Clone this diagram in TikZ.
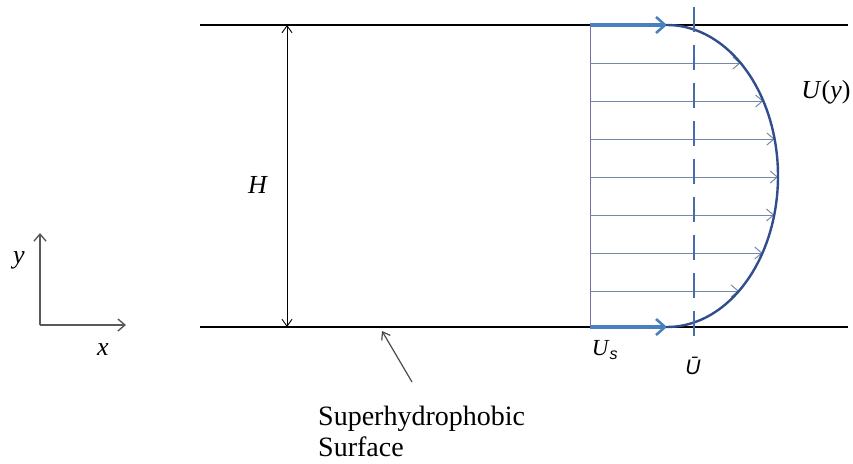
\documentclass[tikz,border=0pt]{standalone}
\usepackage{fontspec}
\setmainfont{Liberation Serif}
\newfontfamily\sansfont{Liberation Sans}
\usepackage{tikz}
\usetikzlibrary{arrows.meta,calc}

\definecolor{slipblue}{RGB}{72,128,192}
\definecolor{curveblue}{RGB}{48,78,140}
\definecolor{dashblue}{RGB}{70,108,170}
\definecolor{veloc}{RGB}{118,136,168}

\begin{document}
\begin{tikzpicture}[
  x=1pt,y=-1pt,
  font=\fontsize{26}{31}\selectfont,
  wall/.style={line width=2pt},
  arr/.style={-{Straight Barb[length=7pt,width=10pt]},line width=0.9pt},
  axis/.style={-{Straight Barb[length=7pt,width=12pt]},line width=1.4pt,black!65},
  slip/.style={-{Straight Barb[length=9pt,width=16pt,line width=2.6pt]},line width=3.8pt,slipblue},
  vel/.style={-{Straight Barb[length=7pt,width=12pt]},line width=1pt,veloc},
  note/.style={font=\fontsize{23}{26}\selectfont},
]
  \useasboundingbox (0,0) rectangle (853,463);

  % channel walls
  \coordinate (TL) at (200,25);  \coordinate (TR) at (848,25);
  \coordinate (BL) at (200,327); \coordinate (BR) at (848,327);
  \draw[wall] (TL) -- (TR);
  \draw[wall] (BL) -- (BR);

  % height
  \coordinate (Htop) at (287,25); \coordinate (Hbot) at (287,327);
  \draw[arr,{Straight Barb[length=7pt,width=10pt]}-{Straight Barb[length=7pt,width=10pt]}] (Htop) -- (Hbot);
  \node (H) at (258,185) {\textit{H}};

  % axes
  \coordinate (O) at (40,325);
  \coordinate (Ytip) at (40,233);
  \coordinate (Xtip) at (126,325);
  \draw[axis] (O) -- (Ytip);
  \draw[axis] (O) -- (Xtip);
  \node (ylab) at (19,260) {\textit{y}};
  \node (xlab) at (103,350) {\textit{x}};

  % velocity profile
  \coordinate (Ptop) at (590,25); \coordinate (Pbot) at (590,327);
  \draw[veloc!80!violet,line width=0.9pt] (Ptop) -- (Pbot);
  \foreach \yy in {63,101,139,177,215,253,291}{
    \pgfmathsetmacro\xe{667+111*sqrt(1-((\yy-176)/151)^2)}
    \coordinate (vs) at (590,\yy);
    \coordinate (ve) at (\xe,\yy);
    \draw[vel] (vs) -- (ve);
  }
  \coordinate (Stop) at (667,25); \coordinate (Sbot) at (667,327);
  \draw[slip] (Ptop) -- (Stop);
  \draw[slip] (Pbot) -- (Sbot);
  \draw[curveblue,line width=2.4pt] plot[domain=-90:90,samples=80]
    ({667+111*cos(\x)},{176+151*sin(\x)});

  % mean velocity
  \coordinate (Mtop) at (694,7); \coordinate (Mbot) at (694,347);
  \draw[dashblue,line width=2.8pt,dash pattern=on 25pt off 13pt] (Mtop) -- (Mbot);

  \node (Uy) at (826,92) {\textit{U}(\textit{y})};
  \node[note] (Us) at (605,350) {\textit{U}\textsubscript{\sansfont\itshape s}};
  \node[note,font=\fontsize{21}{24}\sansfont\itshape] (Ub) at (693,366) {Ū};

  % surface label
  \node[anchor=north west,align=left,inner sep=0pt,font=\fontsize{28}{31}\selectfont] (surf) at (318,406)
    {Superhydrophobic\\Surface};
  \coordinate (ptr) at (382,331);
  \coordinate (pfrom) at (412,382);
  \draw[arr,black!70,line width=1.2pt] (pfrom) -- (ptr);
\end{tikzpicture}
\end{document}
